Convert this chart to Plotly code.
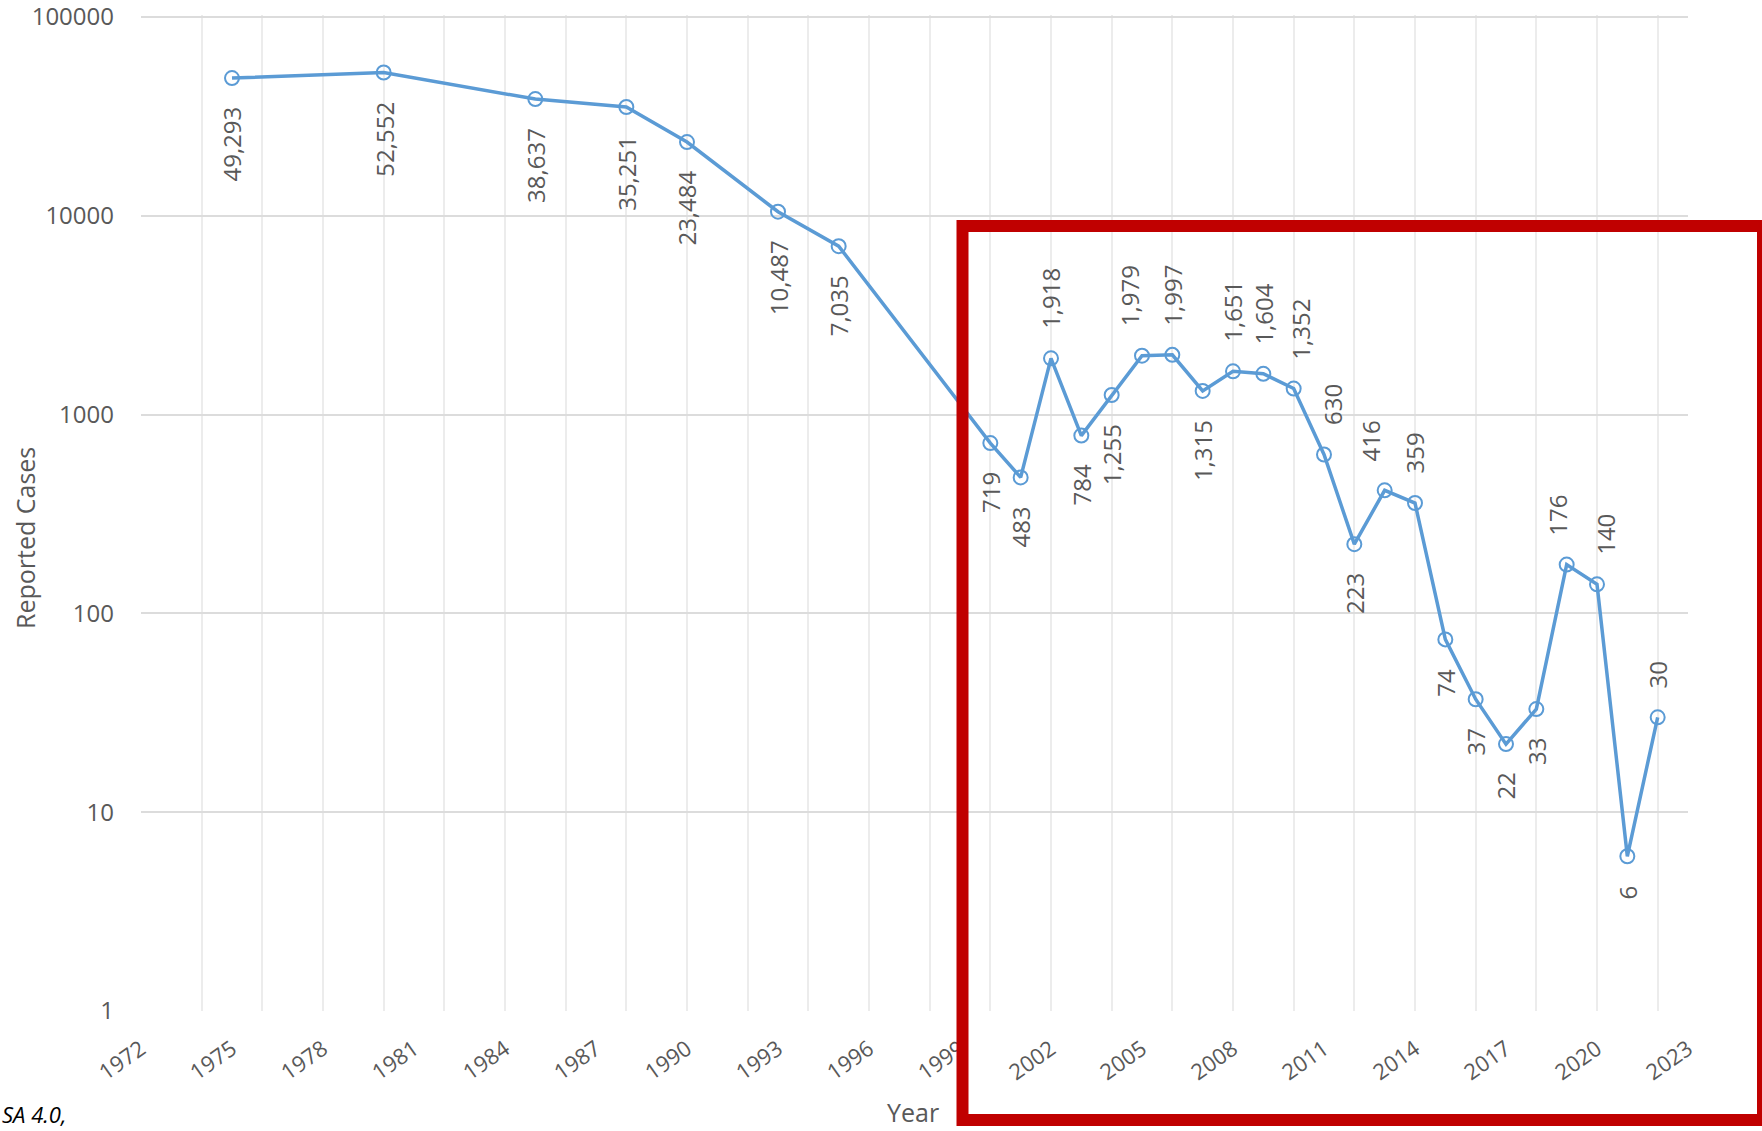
import numpy as np
import plotly.graph_objects as go

# ---------------- data ----------------
years = [1975, 1980, 1985, 1988, 1990, 1993, 1995,
         2000, 2001, 2002, 2003, 2004, 2005, 2006, 2007, 2008, 2009, 2010,
         2011, 2012, 2013, 2014, 2015, 2016, 2017, 2018, 2019, 2020, 2021, 2022]
cases = [49293, 52552, 38637, 35251, 23484, 10487, 7035,
         719, 483, 1918, 784, 1255, 1979, 1997, 1315, 1651, 1604, 1352,
         630, 223, 416, 359, 74, 37, 22, 33, 176, 140, 6, 30]
x_label_years = list(range(1972, 2024, 3))
x_grid_years = list(range(1972, 2023, 2))
y_tick_values = [1, 10, 100, 1000, 10000, 100000]
y_tick_text = ["1", "10", "100", "1000", "10000", "100000"]

# ---------------- style ----------------
LINE_COLOR = "#5B9BD5"
TEXT_COLOR = "#595959"
FONT = "Open Sans"
W, H = 1762, 1131
M_L, M_R, M_T, M_B = 141, 74, 15, 120
PW = W - M_L - M_R
PH = H - M_T - M_B


def px_x(px):
    return (px - M_L) / PW


def px_y(py):
    return (H - M_B - py) / PH


labels_above = {2002, 2005, 2006, 2008, 2009, 2010, 2011, 2013, 2014, 2019, 2020, 2022}
label_xshift = {2005: -13, 2010: 6, 2011: 9, 2013: -14, 2019: -10, 2020: 9}
LABEL_GAP = 27

fig = go.Figure()
fig.add_trace(go.Scatter(
    x=years, y=cases, mode="lines+markers",
    line=dict(color=LINE_COLOR, width=3.5),
    marker=dict(symbol="circle-open", size=14, color=LINE_COLOR,
                line=dict(width=2, color=LINE_COLOR)),
    hoverinfo="skip", showlegend=False, cliponaxis=False,
))
# carrier trace for the labelled year axis
fig.add_trace(go.Scatter(x=years, y=cases, xaxis="x2", mode="none",
                         hoverinfo="skip", showlegend=False))

for yr, v in zip(years, cases):
    above = yr in labels_above
    fig.add_annotation(
        x=yr, y=np.log10(v), xref="x", yref="y",
        text=f"{v:,}", textangle=-90, showarrow=False,
        xanchor="center", yanchor="bottom" if above else "top",
        yshift=LABEL_GAP if above else -LABEL_GAP,
        xshift=label_xshift.get(yr, 0),
        font=dict(family=FONT, size=24, color=TEXT_COLOR),
    )

# axis titles and side text
fig.add_annotation(x=px_x(25), y=px_y(538), xref="paper", yref="paper",
                   text="Reported Cases", textangle=-90, showarrow=False,
                   xanchor="center", yanchor="middle",
                   font=dict(family=FONT, size=25, color=TEXT_COLOR))
fig.add_annotation(x=px_x(913), y=px_y(1131), xref="paper", yref="paper",
                   text="Year", showarrow=False,
                   xanchor="center", yanchor="bottom",
                   font=dict(family=FONT, size=25, color=TEXT_COLOR))
fig.add_annotation(x=px_x(0), y=px_y(1131), xref="paper", yref="paper",
                   text="<i>SA 4.0,</i>", showarrow=False,
                   xanchor="left", yanchor="bottom",
                   font=dict(family=FONT, size=22, color="#000000"))

# highlight box
fig.add_shape(type="rect", xref="paper", yref="paper",
              x0=px_x(962.5), x1=px_x(1763), y0=px_y(1120), y1=px_y(226),
              line=dict(color="#C00000", width=12),
              fillcolor="rgba(0,0,0,0)", layer="above")

fig.update_layout(
    width=W, height=H, autosize=False,
    margin=dict(l=M_L, r=M_R, t=M_T, b=M_B, pad=0, autoexpand=False),
    paper_bgcolor="white", plot_bgcolor="white",
    showlegend=False,
    xaxis=dict(range=[1972, 2023], tickmode="array", tickvals=x_grid_years,
               showticklabels=False, showgrid=True, gridcolor="#ececec",
               gridwidth=1.5, zeroline=False, showline=False, ticks="",
               fixedrange=True, automargin=False),
    xaxis2=dict(range=[1972, 2023], overlaying="x", anchor="y", side="bottom",
                tickmode="array", tickvals=x_label_years,
                ticktext=[str(v) for v in x_label_years], tickangle=-35,
                showgrid=False, zeroline=False, showline=False, ticks="",
                ticklabelstandoff=20, automargin=False,
                tickfont=dict(family=FONT, size=22, color=TEXT_COLOR)),
    yaxis=dict(type="log", range=[-0.0001, 5.01], tickmode="array",
               tickvals=y_tick_values, ticktext=y_tick_text,
               showgrid=True, gridcolor="#dcdcdc", gridwidth=2,
               zeroline=False, showline=False, ticks="",
               ticklabelstandoff=26, ticklabeloverflow="allow",
               automargin=False,
               tickfont=dict(family=FONT, size=24, color=TEXT_COLOR)),
)

fig.write_html("out.html", config={"displayModeBar": False},
               post_script="document.body.style.margin='0';")
